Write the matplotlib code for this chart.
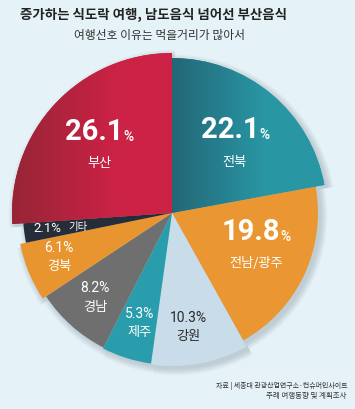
import numpy as np
import matplotlib
matplotlib.use("Agg")
import matplotlib.pyplot as plt
from matplotlib.patches import Wedge
from matplotlib.colors import LinearSegmentedColormap

# ---------------- data ----------------
regions = ["부산", "전북", "전남/광주", "강원", "제주", "경남", "경북", "기타"]
shares = [26.1, 22.1, 19.8, 10.3, 5.3, 8.2, 6.1, 2.1]
title = "증가하는 식도락 여행, 남도음식 넘어선 부산음식"
subtitle = "여행선호 이유는 먹을거리가 많아서"
source_lines = ["자료 | 세종대 관광산업연구소·컨슈머인사이트", "주례 여행동향 및 계획조사"]

# ---------------- style ----------------
W, H = 355, 409
BG = "#E5F2F8"
colors = ["#C92243", "#2893A1", "#EA9733", "#C9DCEA", "#2A9DAD", "#6F6F6F", "#E8952F", "#262D38"]
radii = [160, 155, 146, 153, 152, 151, 155, 149]
center = (172, H - 213)
label_polar = [(109, 132), (104, 52.8), (86, -12.7), (106, -81), (106, -108),
               (107.5, -135.7), (118, -162.8), (112, -172.5)]
CJK = ["Noto Sans CJK KR", "DejaVu Sans"]
NUM = ["Roboto", "DejaVu Sans"]

fig = plt.figure(figsize=(W / 100, H / 100), dpi=100, facecolor=BG)
ax = fig.add_axes([0, 0, 1, 1])
ax.set_xlim(0, W)
ax.set_ylim(0, H)
ax.set_aspect("equal")
ax.axis("off")
ax.set_facecolor(BG)

# first slice runs counter-clockwise from 12 o'clock, the rest clockwise from 12 o'clock
angles = [(90, 90 + shares[0] * 3.6)]
a = 90.0
for s in shares[1:]:
    angles.append((a - s * 3.6, a))
    a -= s * 3.6

# soft shadow
for k in range(8):
    for (t1, t2), r in zip(angles, radii):
        ax.add_patch(Wedge((center[0] + 3, center[1] - 3), r + k * 0.9, t1, t2,
                           facecolor="#5a6a78", edgecolor="none", alpha=0.035, zorder=1))

wedges = []
for (t1, t2), r, c in zip(angles, radii, colors):
    w = Wedge(center, r, t1, t2, facecolor=c, edgecolor="none", zorder=2)
    ax.add_patch(w)
    wedges.append(w)

# gradients for the two top slices
def gradient(wedge, x0, x1, c_left, c_right, xmin, xmax):
    xs = np.linspace(xmin, xmax, 300)
    t = np.clip((xs - x0) / (x1 - x0), 0, 1)
    cmap = LinearSegmentedColormap.from_list("g", [c_left, c_right])
    img = ax.imshow(t[None, :], cmap=cmap, vmin=0, vmax=1, aspect="auto",
                    extent=(xmin, xmax, center[1] - 20, H), zorder=3,
                    interpolation="bilinear")
    img.set_clip_path(wedge)

gradient(wedges[0], 12, 115, "#972536", "#CB2245", 0, center[0])
gradient(wedges[1], center[0], 265, "#236777", "#2996A4", center[0], W)

# labels
def pos(i):
    r, ang = label_polar[i]
    return center[0] + r * np.cos(np.radians(ang)), center[1] + r * np.sin(np.radians(ang))

def fmt(v):
    return f"{v:.1f}"

for i in [0, 1, 2]:
    x, y = pos(i)
    t = ax.text(x - 5, y, fmt(shares[i]), fontsize=21, fontweight="bold", color="white",
                family=NUM, ha="center", va="center", zorder=5)
    ax.annotate("%", xy=(1, 0), xycoords=t, xytext=(0, 1.5), textcoords="offset points",
                fontsize=10, color="white", family=NUM, ha="left", va="bottom",
                fontweight="medium", zorder=5)
    ax.text(x, y - 32, regions[i], fontsize=9.5, color="white", family=CJK,
            fontweight="medium", ha="center", va="center", zorder=5)

for i in [3, 4, 5, 6]:
    x, y = pos(i)
    col = "#2a2a2a" if i == 3 else "white"
    ax.text(x, y, fmt(shares[i]) + "%", fontsize=10, color=col, family=NUM,
            ha="center", va="center", zorder=5)
    ax.text(x, y - 19, regions[i], fontsize=9.5, color=col, family=CJK,
            ha="center", va="center", zorder=5)

t = ax.text(33, H - 228, fmt(shares[7]) + "%", fontsize=9.5, color="white", family=NUM,
            ha="left", va="center", zorder=5)
ax.annotate(regions[7], xy=(1, 0.5), xycoords=t, xytext=(5, 1), textcoords="offset points",
            fontsize=7.5, color="white", family=CJK, ha="left", va="center", zorder=5)

# title & subtitle
ax.text(20, H - 15, title, fontsize=9.7, fontweight="bold", color="#222222", family=CJK,
        ha="left", va="center")
ax.text(160, H - 35, subtitle, fontsize=8.5, color="#333333", family=CJK,
        ha="center", va="center")

# source
ax.text(347, H - 386, source_lines[0], fontsize=5.0, color="#333333", family=CJK,
        ha="right", va="center")
ax.text(347, H - 396, source_lines[1], fontsize=5.4, color="#333333", family=CJK,
        ha="right", va="center")

fig.savefig("out.png", dpi=100, facecolor=BG)
